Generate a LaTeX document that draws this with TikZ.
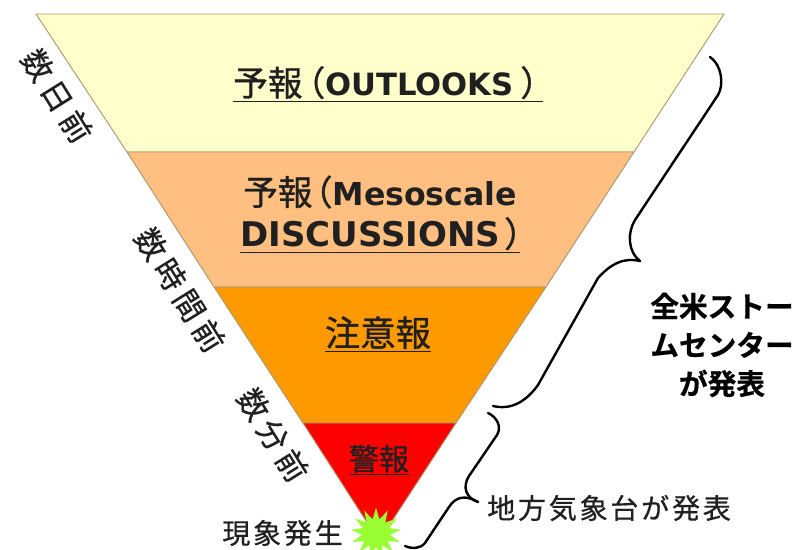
\documentclass[tikz,border=0pt]{standalone}
\usepackage{fontspec}
\usetikzlibrary{shapes.geometric}
\newfontfamily\cjk[FakeBold=0.9]{Noto Sans CJK JP}
\newfontfamily\cjkside[LetterSpace=18,FakeBold=0.5]{Noto Sans CJK JP}
\newfontfamily\cjkwide[LetterSpace=10,FakeBold=0.6]{Noto Sans CJK JP}
\newfontfamily\cjkb[LetterSpace=0,FakeBold=0.6]{Noto Sans CJK JP Bold}
\newfontfamily\latb{DejaVu Sans Bold}
\definecolor{bandA}{HTML}{FFFFCC}
\definecolor{bandB}{HTML}{FFBF80}
\definecolor{bandC}{HTML}{FF9900}
\definecolor{bandD}{HTML}{FF0000}
\definecolor{burst}{HTML}{99FF33}
\definecolor{edgeA}{HTML}{A89A70}
\definecolor{ink}{HTML}{202020}
\tikzset{
  x=0.75pt,y=-0.75pt,
  band/.style={draw=edgeA,line width=0.7pt},
  title/.style={inner sep=0pt,text=ink,align=center,font=\fontsize{26}{32}\selectfont\cjk},
  side/.style={inner sep=0pt,text=ink,font=\fontsize{23}{24}\selectfont\cjkside,rotate=-58},
  plain/.style={inner sep=0pt,text=ink,font=\fontsize{21}{24}\selectfont\cjkwide},
  bracket/.style={draw=black,line width=1.8pt,line cap=round,line join=round},
}
\newcommand{\LatB}[2]{{\fontsize{#1}{32}\selectfont\latb #2}}
\begin{document}
\begin{tikzpicture}
\useasboundingbox (0,0) rectangle (794,550);
\clip (0,0) rectangle (794,550);
\fill[white] (0,0) rectangle (794,550);
\coordinate (TL) at (36,14);
\coordinate (TR) at (724,14);
\coordinate (AL) at (127,152);
\coordinate (AR) at (634,152);
\coordinate (BL) at (214,287);
\coordinate (BR) at (546,287);
\coordinate (CL) at (303,423);
\coordinate (CR) at (456,423);
\coordinate (P) at (379,541);
\draw[band,fill=bandA] (TL) -- (TR) -- (AR) -- (AL) -- cycle;
\draw[band,fill=bandB] (AL) -- (AR) -- (BR) -- (BL) -- cycle;
\draw[band,fill=bandC] (BL) -- (BR) -- (CR) -- (CL) -- cycle;
\draw[band,fill=bandD] (CL) -- (CR) -- (P) -- cycle;

\node[title,anchor=west] (t1) at (233,84) {\underline{予報\kern-9pt（\LatB{23}{OUTLOOKS}\kern5pt）\kern-9pt}};
\node[title,anchor=west] (t2) at (243,192) {予報\kern-11pt（\LatB{23.7}{Mesoscale}};
\node[title,anchor=west] (t2b) at (240,235) {\underline{\LatB{25.5}{DISCUSSIONS}\kern3pt）\kern-14pt}};
\node[title,font=\fontsize{26.5}{32}\selectfont\cjk] (t3) at (378,334) {\underline{注意報}};
\node[title,font=\fontsize{22.5}{32}\selectfont\cjk] (t4) at (379,460) {\underline{警報}};

\node[side] (s1) at (57,96) {数日前};
\node[side] (s2) at (180,290) {数時間前};
\node[side] (s3) at (273,435) {数分前};

\node[star,star points=13,star point ratio=1.8,fill=burst,minimum size=38pt,inner sep=0pt] (burst) at (376,533) {};
\node[plain,anchor=east] (s4) at (343,533) {現象発生};
\node[plain,anchor=west] (s5) at (487,508) {地方気象台が発表};
\node[inner sep=0pt,align=center,text=black,font=\fontsize{21.5}{29}\selectfont\cjkb] (s6) at (722,345) {全米ストー\\ムセンター\\が発表};

\draw[bracket] (710,57) .. controls (722,65) and (724,85) .. (718,95)
  -- (635,220) .. controls (627,233) and (628,252) .. (640,261);
\draw[bracket] (640,261) .. controls (622,257) and (610,265) .. (598,278)
  -- (538,385) .. controls (525,403) and (510,410) .. (493,406);
\draw[bracket] (488,413) .. controls (497,417) and (502,427) .. (497,435)
  -- (469,476) .. controls (462,487) and (466,498) .. (478,502);
\draw[bracket] (478,502) .. controls (466,495) and (456,496) .. (449,507)
  -- (425,543) .. controls (420,549) and (412,549) .. (405,546);
\end{tikzpicture}
\end{document}
